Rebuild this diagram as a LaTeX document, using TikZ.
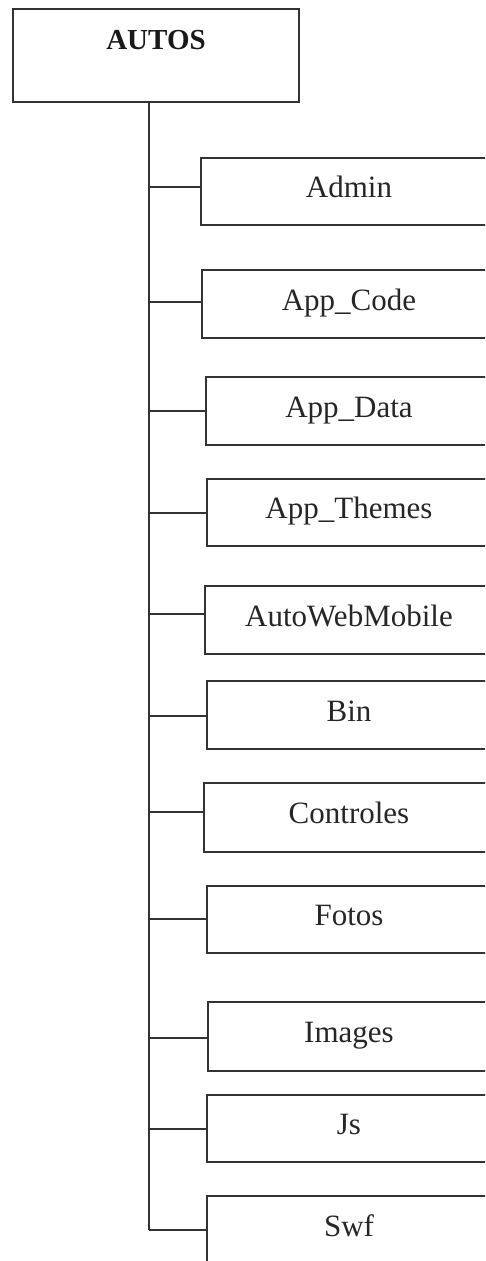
\documentclass[tikz,border=0pt]{standalone}
\usepackage{fontspec}
\setmainfont{Liberation Serif}
\begin{document}
\begin{tikzpicture}[x=1pt,y=1pt,
  ink/.style={draw=black!80, line width=1.3pt},
  rootbox/.style={ink, rectangle, inner sep=0pt, minimum width=286pt, minimum height=93pt,
    font=\fontsize{29}{34}\selectfont\bfseries, text=black!90, text height=19pt, text depth=31pt},
  folder/.style={ink, rectangle, inner sep=0pt,
    font=\fontsize{31}{36}\selectfont, text=black!85, text height=20pt, text depth=8pt},
  link/.style={ink}]
\useasboundingbox (0,0) rectangle (485,-1261);
\clip (0,0) rectangle (485,-1261);
\node[rootbox] (autos) at (156,-55.5) {AUTOS};
\coordinate (trunktop) at (149,-102);
\coordinate (trunkend) at (149,-1230);
\draw[link] (trunktop) -- (trunkend);
\foreach \nm/\txt/\tp/\bt/\cn/\lx in {
  a/Admin/158/225/187/201,
  b/App\_Code/270/338/302/202,
  c/App\_Data/377/445/411/206,
  d/App\_Themes/479/546/513/207,
  e/AutoWebMobile/586/654/614/205,
  f/Bin/681/749/716/207,
  g/Controles/783/852/812/204,
  h/Fotos/886/953/919/207,
  i/Images/1002/1071/1038/208,
  j/Js/1095/1162/1129/207,
  k/Swf/1196/1264/1230/207}{
  \pgfmathsetmacro{\cy}{-(\tp+\bt)/2}
  \pgfmathsetmacro{\hh}{\bt-\tp}
  \pgfmathsetmacro{\ww}{2*(349-\lx)}
  \node[folder, minimum width=\ww pt, minimum height=\hh pt] (\nm) at (349,\cy) {\txt};
  \coordinate (j\nm) at (149,-\cn);
  \draw[link] (j\nm) -- (j\nm -| \nm.west);
}
\end{tikzpicture}
\end{document}
